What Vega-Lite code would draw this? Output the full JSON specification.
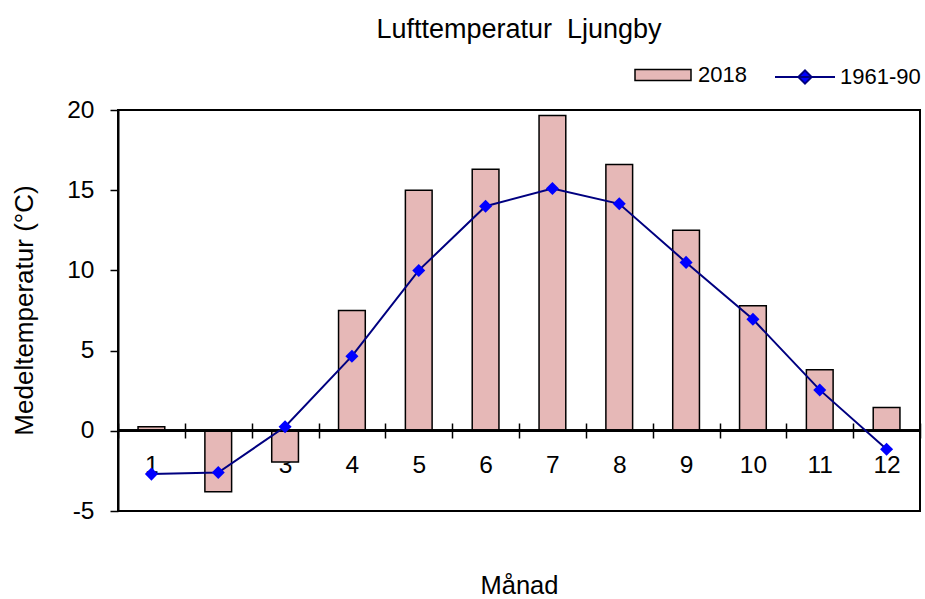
{
  "$schema": "https://vega.github.io/schema/vega-lite/v6.json",
  "width": 802,
  "height": 401,
  "autosize": {"type": "none"},
  "padding": {"left": 118, "top": 110, "right": 5, "bottom": 88},
  "background": "white",
  "config": {
    "view": {"stroke": "black", "strokeWidth": 2},
    "font": "Liberation Sans",
    "axis": {"labelFont": "Liberation Sans", "titleFont": "Liberation Sans", "labelColor": "black", "titleColor": "black", "grid": false},
    "legend": {"labelFont": "Liberation Sans", "labelColor": "black"}
  },
  "title": {
    "text": "Lufttemperatur\u00a0 Ljungby",
    "fontSize": 27,
    "fontWeight": "normal",
    "font": "Liberation Sans",
    "color": "black",
    "frame": "group",
    "anchor": "middle",
    "offset": 2
  },
  "data": {
    "values": [
      {"month": 1, "t2018": 0.25, "t6190": -2.7},
      {"month": 2, "t2018": -3.8, "t6190": -2.6},
      {"month": 3, "t2018": -1.95, "t6190": 0.25},
      {"month": 4, "t2018": 7.5, "t6190": 4.65},
      {"month": 5, "t2018": 15.0, "t6190": 10.0},
      {"month": 6, "t2018": 16.3, "t6190": 14.0},
      {"month": 7, "t2018": 19.65, "t6190": 15.1},
      {"month": 8, "t2018": 16.6, "t6190": 14.15},
      {"month": 9, "t2018": 12.5, "t6190": 10.5},
      {"month": 10, "t2018": 7.8, "t6190": 6.95},
      {"month": 11, "t2018": 3.8, "t6190": 2.55},
      {"month": 12, "t2018": 1.45, "t6190": -1.15}
    ]
  },
  "encoding": {
    "x": {
      "field": "month",
      "type": "ordinal",
      "scale": {"paddingInner": 0, "paddingOuter": 0},
      "axis": {
        "orient": "bottom",
        "offset": -88,
        "domain": false,
        "tickBand": "extent",
        "tickSize": 15,
        "tickColor": "black",
        "tickWidth": 1.5,
        "labelAngle": 0,
        "labelFontSize": 24.5,
        "labelPadding": 15,
        "title": "Månad",
        "titleFontSize": 25.5,
        "titleFontWeight": "normal",
        "titleY": 150
      }
    }
  },
  "layer": [
    {
      "mark": {"type": "bar", "width": {"band": 0.4}, "stroke": "black", "strokeWidth": 1.5},
      "encoding": {
        "y": {
          "field": "t2018",
          "type": "quantitative",
          "scale": {"domain": [-5, 20], "nice": false, "zero": false},
          "axis": {
            "values": [-5, 0, 5, 10, 15, 20],
            "labelExpr": "toString(datum.value)",
            "domainColor": "black",
            "domainWidth": 2,
            "tickColor": "black",
            "tickWidth": 1.5,
            "tickSize": 8,
            "labelFontSize": 24.5,
            "labelPadding": 16,
            "title": "Medeltemperatur (°C)",
            "titleFontSize": 26,
            "titleFontWeight": "normal",
            "titleAngle": -90,
            "titleX": -81,
            "titleY": 200,
            "titleBaseline": "bottom",
            "titleAlign": "center"
          }
        },
        "fill": {
          "datum": "2018",
          "scale": {"range": ["#E6B8B7"]},
          "legend": {
            "title": null,
            "orient": "none",
            "legendX": 516,
            "legendY": -64,
            "symbolType": "M-1,-0.2H1V0.2H-1Z",
            "symbolSize": 3136,
            "symbolStrokeColor": "black",
            "symbolStrokeWidth": 1.5,
            "labelFontSize": 22,
            "labelOffset": 6
          }
        }
      }
    },
    {
      "mark": {"type": "rule", "color": "black", "strokeWidth": 2},
      "encoding": {"y": {"datum": 0, "type": "quantitative"}, "x": null}
    },
    {
      "mark": {"type": "line", "strokeWidth": 2},
      "encoding": {
        "y": {"field": "t6190", "type": "quantitative"},
        "stroke": {
          "datum": "1961-90",
          "scale": {"range": ["#000080"]},
          "legend": {
            "title": null,
            "orient": "none",
            "legendX": 656,
            "legendY": -64,
            "symbolType": "M-1,0H1M-0.22,0L0,-0.22L0.22,0L0,0.22Z",
            "symbolSize": 3600,
            "symbolStrokeWidth": 2,
            "labelFontSize": 22,
            "labelOffset": 4,
            "encode": {"symbols": {"update": {"fill": {"value": "#0000FF"}, "fillOpacity": {"value": 1}}}}
          }
        }
      }
    },
    {
      "mark": {"type": "point", "shape": "diamond", "filled": true, "color": "#0000FF", "size": 170, "opacity": 1},
      "encoding": {"y": {"field": "t6190", "type": "quantitative"}}
    }
  ]
}
